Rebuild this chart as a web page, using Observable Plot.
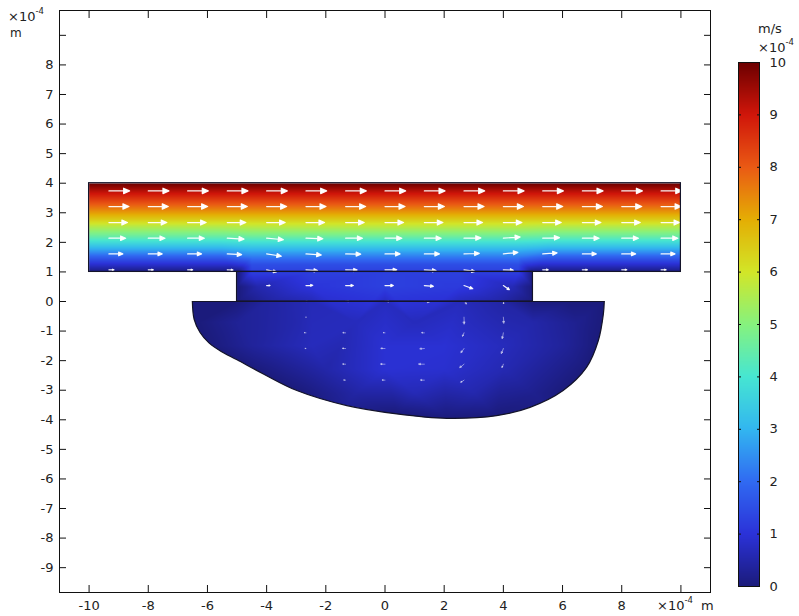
<!DOCTYPE html>
<html><head><meta charset="utf-8">
<script src="https://cdn.jsdelivr.net/npm/d3@7"></script>
<script src="https://cdn.jsdelivr.net/npm/@observablehq/plot@0.6"></script>
<style>
html,body{margin:0;padding:0;background:#fff;}
#wrap{position:relative;width:799px;height:616px;overflow:hidden;}
#wrap svg{position:absolute;top:0;}
</style></head><body><div id="wrap"></div>
<script>
// ---- axes ----
const xTickLabels = [-10, -8, -6, -4, -2, 0, 2, 4, 6, 8];
const xTickMarks = [-10, -8, -6, -4, -2, 0, 2, 4, 6, 8, 10];
const yTickLabels = [-9, -8, -7, -6, -5, -4, -3, -2, -1, 0, 1, 2, 3, 4, 5, 6, 7, 8];
const yTickMarks = [-9, -8, -7, -6, -5, -4, -3, -2, -1, 0, 1, 2, 3, 4, 5, 6, 7, 8, 9];
const colorbarLabels = [0, 1, 2, 3, 4, 5, 6, 7, 8, 9, 10];
const colorbarInnerTicks = [1, 2, 3, 4, 5, 6, 7, 8, 9];

// ---- colour table (velocity magnitude, x1e-4 m/s) ----
const colorStops = [0, 1, 2, 3, 4, 5, 6, 7, 8, 9, 10];
const colorRange = ["#1b1b7a", "#2b32d8", "#306af2", "#32b6f0", "#46e6d2", "#86f27e",
                    "#d2e628", "#e4ae04", "#ea5a14", "#d0160a", "#6c0000"];

// ---- geometry (x1e-4 m) ----
const channelX = [-10, 10], channelY = [1, 4];
const neckX = [-5, 5], neckY = [0, 1];
const cavityX = [-6.51, -6.45, -6.25, -5.95, -5.55, -5.00, -4.11, -2.98, -1.29, 0.40, 2.08, 3.77, 4.90, 6.02, 6.81, 7.21, 7.38, 7.41];
const cavityY = [0, -0.60, -1.05, -1.40, -1.68, -1.97, -2.45, -3.01, -3.52, -3.80, -3.95, -3.86, -3.58, -3.01, -2.23, -1.32, -0.42, 0];

// ---- velocity magnitude samples ----
const profileY     = [1, 1.25, 1.5, 1.75, 2, 2.25, 2.5, 2.75, 3, 3.25, 3.5, 3.75, 4];
const wallProfileV = [0.05, 0.9, 1.8, 2.8, 3.8, 4.7, 5.5, 6.4, 7.2, 7.9, 8.6, 9.3, 10];
const openProfileV = [1.25, 1.5, 2.2, 3.0, 3.9, 4.8, 5.6, 6.4, 7.2, 7.9, 8.6, 9.3, 10];
const wallColumnsX = [-10, -7.5, -5.5, 5.5, 7.5, 10];
const openColumnsX = [-4.5, -2.5, 0, 2.5, 4.5];
const interiorX = [-5, 5,
  -5, -4.3, -2.5, 0, 2.5, 4.3, 5,
  -6.51, -5, -4, -2.5, 0, 2.5, 4, 5, 6.2, 7.41,
  -6.3, -5, -3, -1, 1, 3, 5, 6.5, 7.37,
  -5.9, -4.5, -2.5, 0, 2, 4, 6, 7.15,
  -4.4, -2, 0, 2, 4, 6, 6.75,
  -2.8, -1, 1, 3, 5, 5.95,
  0.4, 2.08, 3.77,
  -7, -5, -2, 2, 6, 7.9];
const interiorY = [1, 1,
  0.5, 0.5, 0.5, 0.5, 0.5, 0.5, 0.5,
  0, 0, 0, 0, 0, 0, 0, 0, 0, 0,
  -0.7, -0.7, -0.7, -0.7, -0.7, -0.7, -0.7, -0.7, -0.7,
  -1.5, -1.5, -1.5, -1.5, -1.5, -1.5, -1.5, -1.5,
  -2.3, -2.3, -2.3, -2.3, -2.3, -2.3, -2.3,
  -3.1, -3.1, -3.1, -3.1, -3.1, -3.1,
  -3.8, -3.95, -3.86,
  -1.5, -3, -4.2, -4.5, -4, -1.5];
const interiorV = [0.02, 0.02,
  0.02, 0.55, 1.05, 1.25, 1.15, 0.65, 0.02,
  0.02, 0.02, 0.4, 0.65, 0.75, 0.7, 0.45, 0.02, 0.02, 0.02,
  0.02, 0.3, 0.55, 0.7, 0.7, 0.7, 0.5, 0.22, 0.02,
  0.02, 0.35, 0.7, 0.95, 0.95, 0.7, 0.35, 0.02,
  0.02, 0.5, 0.95, 0.9, 0.6, 0.18, 0.02,
  0.02, 0.45, 0.65, 0.55, 0.22, 0.02,
  0.02, 0.02, 0.02,
  0.02, 0.02, 0.02, 0.02, 0.02, 0.02];

// ---- arrow grid ----
const arrowColsX = [-9.33, -8, -6.67, -5.33, -4, -2.67, -1.33, 0, 1.33, 2.67, 4, 5.33, 6.67, 8, 9.33];
const arrowRowsY = [3.74, 3.21, 2.67, 2.14, 1.61, 1.07, 0.54, 0.01, -0.53, -1.06, -1.59, -2.12, -2.66];
const cavityRowStart = 7; // rows from here on lie in the cavity
const n = null;
const arrowSpeed = [
  [9.2, 9.2, 9.2, 9.2, 9.2, 9.2, 9.2, 9.2, 9.2, 9.2, 9.2, 9.2, 9.2, 9.2, 9.2],
  [8.0, 8.0, 8.0, 8.0, 8.0, 8.0, 8.0, 8.0, 8.0, 8.0, 8.0, 8.0, 8.0, 8.0, 8.0],
  [5.8, 5.8, 5.8, 5.8, 5.8, 5.8, 5.8, 5.8, 5.8, 5.8, 5.8, 5.8, 5.8, 5.8, 5.8],
  [3.9, 3.9, 3.9, 3.9, 4.0, 4.0, 4.0, 4.0, 4.0, 4.0, 4.0, 3.9, 3.9, 3.9, 3.9],
  [2.1, 2.1, 2.1, 2.3, 2.6, 2.9, 2.7, 2.7, 2.7, 2.8, 2.4, 2.3, 2.1, 2.1, 2.1],
  [0.3, 0.3, 0.3, 0.35, 0.9, 1.25, 1.25, 1.3, 1.3, 1.15, 0.9, 0.33, 0.3, 0.3, 0.3],
  [n, n, n, n, 0.21, 0.44, 0.54, 0.62, 0.72, 0.77, 0.5, n, n, n, n],
  [n, n, n, n, n, 0.13, 0.2, 0.25, 0.28, 0.22, 0.17, n, n, n, n],
  [n, n, n, n, n, 0.1, n, n, n, 0.44, 0.37, n, n, n, n],
  [n, n, n, n, n, 0.14, 0.18, 0.14, 0.18, 0.22, 0.36, n, n, n, n],
  [n, n, n, n, n, 0.12, 0.2, 0.24, 0.26, 0.3, 0.32, n, n, n, n],
  [n, n, n, n, n, n, 0.19, 0.26, 0.35, 0.32, 0.22, n, n, n, n],
  [n, n, n, n, n, n, 0.15, 0.18, 0.23, 0.23, n, n, n, n, n]
];
const arrowAngle = [
  [90, 90, 90, 90, 90, 90, 90, 90, 90, 90, 90, 90, 90, 90, 90],
  [90, 90, 90, 90, 90, 90, 90, 90, 90, 90, 90, 90, 90, 90, 90],
  [90, 90, 90, 90, 90, 90, 90, 90, 90, 90, 90, 90, 90, 90, 90],
  [90, 90, 90, 93, 95, 92, 90, 90, 90, 89, 86, 88, 90, 90, 90],
  [90, 90, 90, 93, 99, 94, 91, 90, 90, 88, 84, 86, 90, 90, 90],
  [90, 90, 90, 92, 102, 93, 91, 90, 93, 98, 92, 90, 90, 90, 90],
  [n, n, n, n, 90, 88, 90, 90, 95, 110, 125, n, n, n, n],
  [n, n, n, n, n, 90, 90, 92, 100, 135, 170, n, n, n, n],
  [n, n, n, n, n, 90, n, n, n, 178, 175, n, n, n, n],
  [n, n, n, n, n, 270, 270, 270, 270, 200, 190, n, n, n, n],
  [n, n, n, n, n, 270, 270, 270, 265, 215, 200, n, n, n, n],
  [n, n, n, n, n, n, 270, 270, 270, 230, 200, n, n, n, n],
  [n, n, n, n, n, n, 270, 270, 270, 235, n, n, n, n, n]
];

// ---- tables built from the arrays ----
const field = [];
for (const x of wallColumnsX) profileY.forEach((y, i) => field.push({x, y, v: wallProfileV[i]}));
for (const x of openColumnsX) profileY.forEach((y, i) => field.push({x, y, v: openProfileV[i]}));
interiorX.forEach((x, i) => field.push({x, y: interiorY[i], v: interiorV[i]}));

const arrows = [];
arrowRowsY.forEach((y, r) => arrowColsX.forEach((x, c) => {
  const s = arrowSpeed[r][c];
  if (s != null) arrows.push({x, y, speed: s, angle: arrowAngle[r][c], cavity: r >= cavityRowStart});
}));
const channelArrows = arrows.filter(d => !d.cavity);
const cavityArrows = arrows.filter(d => d.cavity);

const boxes = [
  {x1: channelX[0], x2: channelX[1], y1: channelY[0], y2: channelY[1]},
  {x1: neckX[0], x2: neckX[1], y1: neckY[0], y2: neckY[1]}
];
const cavity = cavityX.map((x, i) => ({x, y: cavityY[i]}));
const cavityTop = [{x: cavityX[0], y: cavityY[0]}, {x: cavityX[cavityX.length - 1], y: cavityY[cavityY.length - 1]}];

const arrowShape = {
  draw(ctx, l) {
    const h = Math.min(6, l * 0.3), w = h * 0.45;
    ctx.moveTo(0, 0);
    ctx.lineTo(0, -(l - h));
    ctx.moveTo(0, -l);
    ctx.lineTo(-w, -(l - h));
    ctx.lineTo(w, -(l - h));
    ctx.closePath();
  }
};

const txt = "#222";
const fontStyle = {fontFamily: "'DejaVu Sans', sans-serif", fontSize: "13px", color: txt, background: "transparent", overflow: "visible"};
const outline = "#14142a";

const chart = Plot.plot({
  width: 799, height: 616,
  marginLeft: 59, marginRight: 89, marginTop: 10, marginBottom: 24,
  x: {domain: [-11, 11]},
  y: {domain: [-9.84, 9.84]},
  color: {type: "linear", domain: colorStops, range: colorRange},
  length: {type: "log", domain: [0.1, 10], range: [0, 21.05]},
  style: fontStyle,
  marks: [
    Plot.raster(field, {x: "x", y: "y", fill: "v", interpolate: "barycentric",
      x1: channelX[0], x2: channelX[1], y1: -4.2, y2: channelY[1], className: "field"}),
    Plot.vector(channelArrows, {x: "x", y: "y", length: "speed", rotate: "angle", anchor: "start",
      shape: arrowShape, stroke: "white", fill: "white", strokeWidth: 1.2, strokeOpacity: 0.95}),
    Plot.vector(cavityArrows, {x: "x", y: "y", length: "speed", rotate: "angle", anchor: "start",
      shape: arrowShape, stroke: "white", fill: "white", strokeWidth: 0.8, strokeOpacity: 0.55, fillOpacity: 0.55}),
    Plot.rect(boxes, {x1: "x1", x2: "x2", y1: "y1", y2: "y2", fill: "none", stroke: outline, strokeWidth: 1.2}),
    Plot.line(cavity, {x: "x", y: "y", curve: "catmull-rom", stroke: outline, strokeWidth: 1.2}),
    Plot.line(cavityTop, {x: "x", y: "y", stroke: outline, strokeWidth: 1.2}),
    Plot.frame({stroke: "#111", strokeWidth: 1}),
    Plot.axisX(xTickLabels, {anchor: "bottom", tickSize: 0, tickPadding: 8, tickFormat: d => String(d), label: null, fill: txt}),
    Plot.axisY(yTickLabels, {anchor: "left", tickSize: 0, tickPadding: 6, tickFormat: d => String(d), label: null, fill: txt}),
    Plot.axisX(xTickMarks, {anchor: "bottom", tickSize: 7, dy: -7, fill: "none", stroke: "#111", label: null}),
    Plot.axisX(xTickMarks, {anchor: "top", tickSize: 7, dy: 7, fill: "none", stroke: "#111", label: null}),
    Plot.axisY(yTickMarks, {anchor: "left", tickSize: 7, dx: 7, fill: "none", stroke: "#111", label: null}),
    Plot.axisY(yTickMarks, {anchor: "right", tickSize: 7, dx: -7, fill: "none", stroke: "#111", label: null})
  ]
});

// clip the colour field to the flow domain
{
  const ns = "http://www.w3.org/2000/svg";
  const sx = chart.scale("x"), sy = chart.scale("y");
  const X = v => sx.apply(v), Y = v => sy.apply(v);
  const defs = document.createElementNS(ns, "defs");
  const cp = document.createElementNS(ns, "clipPath");
  cp.setAttribute("id", "flow-domain");
  const line = d3.line().curve(d3.curveCatmullRom).x(d => X(d.x)).y(d => Y(d.y));
  const paths = [line(cavity) + "Z"];
  for (const b of boxes) paths.push(`M${X(b.x1)},${Y(b.y1)}H${X(b.x2)}V${Y(b.y2)}H${X(b.x1)}Z`);
  for (const d of paths) {
    const p = document.createElementNS(ns, "path");
    p.setAttribute("d", d);
    cp.appendChild(p);
  }
  defs.appendChild(cp);
  chart.insertBefore(defs, chart.firstChild);
  const img = chart.querySelector(".field image") || chart.querySelector("image");
  if (img) {
    const holder = document.createElementNS(ns, "g");
    holder.setAttribute("clip-path", "url(#flow-domain)");
    img.parentNode.insertBefore(holder, img);
    holder.appendChild(img);
  }

  const s = d3.select(chart);
  const t1 = s.append("text").attr("x", 8).attr("y", 21).attr("fill", txt).attr("text-anchor", "start").style("font-size", "13px");
  t1.append("tspan").text("×10");
  t1.append("tspan").attr("dy", -7).style("font-size", "8.5px").text("-4");
  s.append("text").attr("x", 10).attr("y", 37).attr("fill", txt).attr("text-anchor", "start").style("font-size", "12px").text("m");
  const t2 = s.append("text").attr("x", 657).attr("y", 609.5).attr("fill", txt).attr("text-anchor", "start").style("font-size", "13px");
  t2.append("tspan").text("×10");
  t2.append("tspan").attr("dy", -7).style("font-size", "8.5px").text("-4");
  s.append("text").attr("x", 701).attr("y", 609.5).attr("fill", txt).attr("text-anchor", "start").style("font-size", "13px").text("m");
}

const bar = Plot.plot({
  width: 79, height: 616,
  marginLeft: 18, marginRight: 40, marginTop: 62, marginBottom: 30,
  x: {domain: [0, 1], axis: null},
  y: {domain: [0, 10]},
  color: {type: "linear", domain: colorStops, range: colorRange},
  style: fontStyle,
  marks: [
    Plot.raster({fill: (x, y) => y, x1: 0, x2: 1, y1: 0, y2: 10}),
    Plot.frame({stroke: "#111", strokeWidth: 1}),
    Plot.axisY(colorbarLabels, {anchor: "right", tickSize: 0, tickPadding: 10, tickFormat: d => String(d), label: null, fill: txt}),
    Plot.axisY(colorbarInnerTicks, {anchor: "left", tickSize: 3, dx: 3, fill: "none", stroke: "#111", label: null}),
    Plot.axisY(colorbarInnerTicks, {anchor: "right", tickSize: 3, dx: -3, fill: "none", stroke: "#111", label: null})
  ]
});
{
  const s = d3.select(bar);
  s.append("text").attr("x", 38).attr("y", 33).attr("fill", txt).attr("text-anchor", "start").style("font-size", "13px").text("m/s");
  const t = s.append("text").attr("x", 38).attr("y", 52).attr("fill", txt).attr("text-anchor", "start").style("font-size", "13px");
  t.append("tspan").text("×10");
  t.append("tspan").attr("dy", -7).style("font-size", "8.5px").text("-4");
}

const wrap = document.getElementById("wrap");
chart.style.left = "0px";
bar.style.left = "720px";
wrap.appendChild(chart);
wrap.appendChild(bar);
</script></body></html>
